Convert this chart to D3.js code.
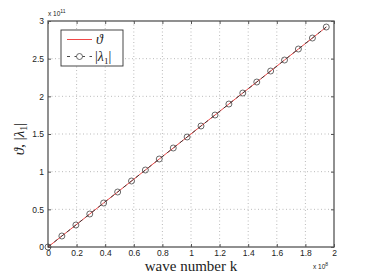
<!DOCTYPE html>
<html>
<head>
<meta charset="utf-8">
<script src="https://cdn.jsdelivr.net/npm/d3@7"></script>
<style>
  body { margin: 0; background: #fff; }
</style>
</head>
<body>
<svg id="chart"></svg>
<script>
// wave number k (x 1e8) and |lambda_1| / theta (x 1e11)
const kValues = [0, 0.097, 0.195, 0.292, 0.389, 0.487, 0.584, 0.681, 0.778, 0.876,
                 0.973, 1.07, 1.168, 1.265, 1.362, 1.46, 1.557, 1.654, 1.751, 1.849, 1.946];
const lambdaValues = [0, 0.146, 0.292, 0.438, 0.584, 0.73, 0.876, 1.022, 1.168, 1.314,
                      1.46, 1.606, 1.752, 1.898, 2.044, 2.19, 2.336, 2.482, 2.628, 2.774, 2.92];
const thetaValues = lambdaValues.slice();
const xTicks = [0, 0.2, 0.4, 0.6, 0.8, 1, 1.2, 1.4, 1.6, 1.8, 2];
const yTicks = [0, 0.5, 1, 1.5, 2, 2.5, 3];

const W = 370, H = 278;
const margin = {top: 21, right: 36, bottom: 31, left: 48};
const w = W - margin.left - margin.right;
const h = H - margin.top - margin.bottom;

const svg = d3.select("#chart").attr("width", W).attr("height", H);
const g = svg.append("g").attr("transform", `translate(${margin.left},${margin.top})`);

const x = d3.scaleLinear().domain([0, 2]).range([0, w]);
const y = d3.scaleLinear().domain([0, 3]).range([h, 0]);

// grid
g.append("g").selectAll("line").data(xTicks.slice(1, -1)).join("line")
    .attr("x1", d => x(d)).attr("x2", d => x(d)).attr("y1", 0).attr("y2", h)
    .attr("stroke", "#aaa").attr("stroke-width", 0.8).attr("stroke-dasharray", "1,2.5");
g.append("g").selectAll("line").data(yTicks.slice(1, -1)).join("line")
    .attr("y1", d => y(d)).attr("y2", d => y(d)).attr("x1", 0).attr("x2", w)
    .attr("stroke", "#aaa").attr("stroke-width", 0.8).attr("stroke-dasharray", "1,2.5");

// axes, ticks inside on all sides
const tickFont = "Liberation Sans, Arial, sans-serif";
const styleAxis = sel => {
    sel.select(".domain").remove();
    sel.selectAll("line").attr("stroke", "#555");
    sel.selectAll("text").attr("font-family", tickFont).attr("font-size", 8.5).attr("fill", "#222");
};
g.append("g").attr("transform", `translate(0,${h})`)
    .call(d3.axisBottom(x).tickValues(xTicks).tickFormat(d3.format("")).tickSizeInner(-3).tickPadding(3))
    .call(styleAxis);
g.append("g")
    .call(d3.axisTop(x).tickValues(xTicks).tickFormat("").tickSizeInner(-3))
    .call(styleAxis);
g.append("g")
    .call(d3.axisLeft(y).tickValues(yTicks).tickFormat(d3.format("")).tickSizeInner(-3).tickPadding(4))
    .call(styleAxis);
g.append("g").attr("transform", `translate(${w},0)`)
    .call(d3.axisRight(y).tickValues(yTicks).tickFormat("").tickSizeInner(-3))
    .call(styleAxis);

g.append("rect").attr("width", w).attr("height", h)
    .attr("fill", "none").attr("stroke", "#555").attr("stroke-width", 1.3);

// series
const line = d3.line();
g.append("path")
    .attr("d", line(kValues.map((k, i) => [x(k), y(thetaValues[i])])))
    .attr("fill", "none").attr("stroke", "#f04848").attr("stroke-width", 1);
g.append("path")
    .attr("d", line(kValues.map((k, i) => [x(k), y(lambdaValues[i])])))
    .attr("fill", "none").attr("stroke", "#333").attr("stroke-width", 0.9)
    .attr("stroke-dasharray", "4,4");
g.append("g").selectAll("circle").data(kValues).join("circle")
    .attr("cx", d => x(d)).attr("cy", (d, i) => y(lambdaValues[i])).attr("r", 3)
    .attr("fill", "none").attr("stroke", "#444").attr("stroke-width", 0.8);

// exponent labels
const expo = (px, py, e) => {
    const t = svg.append("text").attr("x", px).attr("y", py)
        .attr("font-family", tickFont).attr("font-size", 6.5).attr("fill", "#222");
    t.append("tspan").text("x 10");
    t.append("tspan").attr("dy", -3).attr("font-size", 5).text(e);
};
expo(margin.left, 16, "11");
expo(margin.left + w - 21, margin.top + h + 22, "8");

// axis titles
svg.append("text")
    .attr("x", margin.left + w / 2).attr("y", H - 7)
    .attr("text-anchor", "middle")
    .attr("font-family", "Liberation Serif, serif").attr("font-size", 15)
    .attr("fill", "#222").text("wave number k");

const yl = svg.append("text")
    .attr("transform", `translate(24,${margin.top + h / 2 + 5}) rotate(-90)`)
    .attr("text-anchor", "middle")
    .attr("font-family", "Liberation Serif, serif").attr("font-size", 15).attr("fill", "#222");
yl.append("tspan").attr("font-style", "italic").text("ϑ");
yl.append("tspan").text(", |");
yl.append("tspan").attr("font-style", "italic").text("λ");
yl.append("tspan").attr("font-size", 10).attr("dy", 3).text("1");
yl.append("tspan").attr("dy", -3).text("|");

// legend
const lg = svg.append("g").attr("transform", `translate(${margin.left + 13},${margin.top + 9})`);
lg.append("rect").attr("width", 62).attr("height", 36)
    .attr("fill", "#fff").attr("stroke", "#333").attr("stroke-width", 0.9);
lg.append("line").attr("x1", 6).attr("x2", 31).attr("y1", 9.5).attr("y2", 9.5)
    .attr("stroke", "#f04848").attr("stroke-width", 1);
lg.append("text").attr("x", 35).attr("y", 14)
    .attr("font-family", "Liberation Serif, serif").attr("font-style", "italic")
    .attr("font-size", 14).attr("fill", "#222").text("ϑ");
lg.append("line").attr("x1", 6).attr("x2", 31).attr("y1", 26.5).attr("y2", 26.5)
    .attr("stroke", "#333").attr("stroke-width", 0.9).attr("stroke-dasharray", "3,4.5");
lg.append("circle").attr("cx", 18.5).attr("cy", 26.5).attr("r", 3)
    .attr("fill", "#fff").attr("stroke", "#444").attr("stroke-width", 0.8);
const lt = lg.append("text").attr("x", 34).attr("y", 31)
    .attr("font-family", "Liberation Serif, serif").attr("font-size", 14).attr("fill", "#222");
lt.append("tspan").text("|");
lt.append("tspan").attr("font-style", "italic").text("λ");
lt.append("tspan").attr("font-size", 9).attr("dy", 3).text("1");
lt.append("tspan").attr("dy", -3).text("|");
</script>
</body>
</html>
